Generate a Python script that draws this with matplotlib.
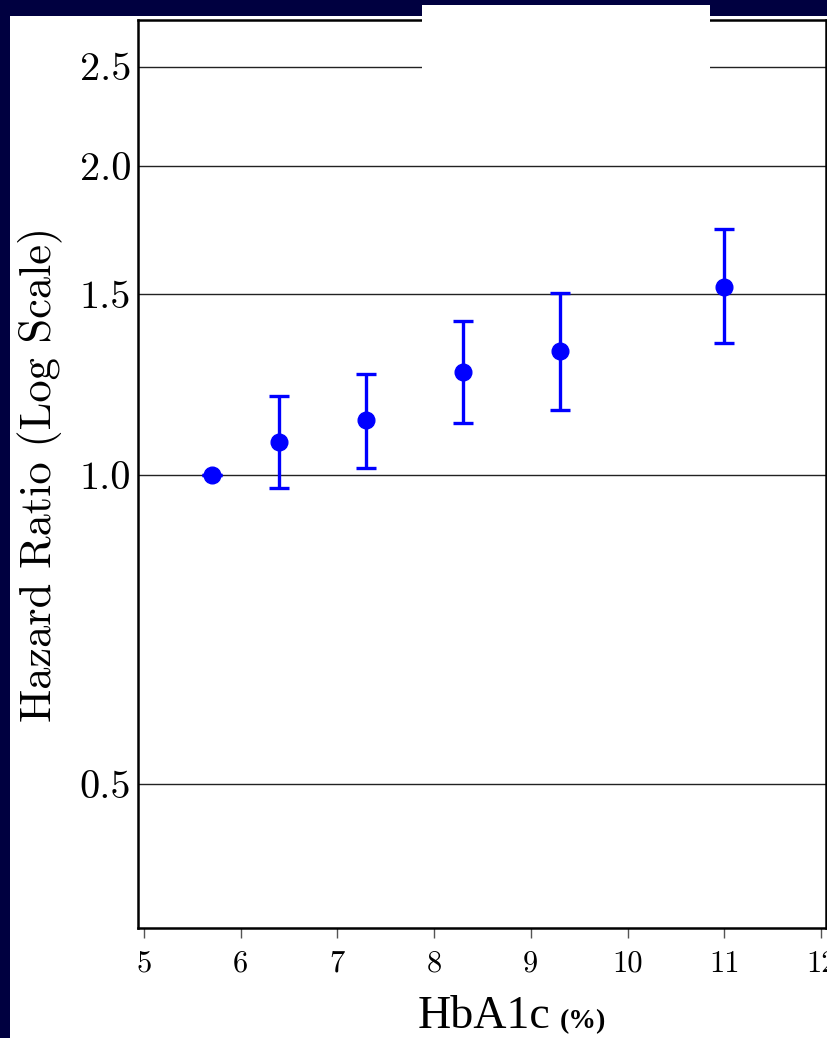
import matplotlib.pyplot as plt
from matplotlib.patches import Rectangle
from matplotlib.ticker import FixedLocator, NullLocator

# data
hba1c = [5.7, 6.4, 7.3, 8.3, 9.3, 11.0]
hr = [1.00, 1.077, 1.131, 1.26, 1.32, 1.525]
hr_low = [1.00, 0.971, 1.016, 1.124, 1.157, 1.345]
hr_high = [1.00, 1.194, 1.254, 1.413, 1.504, 1.736]

yticks = [0.5, 1.0, 1.5, 2.0, 2.5]
ytick_labels = ['0.5', '1.0', '1.5', '2.0', '2.5']
xticks = [5, 6, 7, 8, 9, 10, 11, 12]

navy = '#000040'
blue = '#0000ff'

fig = plt.figure(figsize=(8.28, 10.38), dpi=100, facecolor=navy)
# white slide panel
fig.patches.append(Rectangle((10 / 828, 0), 1, 1 - 16 / 1038, transform=fig.transFigure,
                             facecolor='white', edgecolor='none', zorder=-5))

ax = fig.add_axes([138 / 828, 1 - 928 / 1038, 688 / 828, 908 / 1038])
ax.set_zorder(1)
ax.set_yscale('log')
ax.set_xlim(4.94, 12.05)
ax.set_ylim(0.362, 2.775)

for v in yticks:
    ax.axhline(v, color='#222222', lw=1.0, zorder=1)

yerr = [[h - l for h, l in zip(hr, hr_low)], [u - h for h, u in zip(hr, hr_high)]]
ax.errorbar(hba1c, hr, yerr=yerr, fmt='o', color=blue, ms=12, elinewidth=2.4,
            capsize=7, capthick=2.4, zorder=3)

ax.yaxis.set_major_locator(FixedLocator(yticks))
ax.yaxis.set_minor_locator(NullLocator())
ax.set_yticklabels(ytick_labels, fontfamily='cmr10', fontsize=29)
ax.tick_params(axis='y', length=0, pad=5)

ax.set_xticks(xticks)
ax.xaxis.set_minor_locator(NullLocator())
ax.set_xticklabels([str(t) for t in xticks], fontfamily='cmr10', fontsize=22)
ax.tick_params(axis='x', length=7, width=1, color='#555555', pad=9)

for s in ax.spines.values():
    s.set_linewidth(1.8)
    s.set_color('black')

ax.set_ylabel('Hazard Ratio (Log Scale)', fontfamily='cmr10', fontsize=32, labelpad=12)

fig.text(418 / 828, 1 - 1028 / 1038, 'HbA1c', fontfamily='Liberation Serif', fontsize=33,
         ha='left', va='baseline', color='black')
fig.text(560 / 828, 1 - 1028 / 1038, '(%)', fontfamily='Liberation Serif', fontsize=20,
         fontweight='bold', ha='left', va='baseline', color='black')

# white box covering the top
fig.patches.append(Rectangle((422 / 828, 1 - 70 / 1038), 288 / 828, 65 / 1038,
                             transform=fig.transFigure, facecolor='white',
                             edgecolor='none', zorder=10))

fig.savefig('out.png', dpi=100, facecolor=navy)
